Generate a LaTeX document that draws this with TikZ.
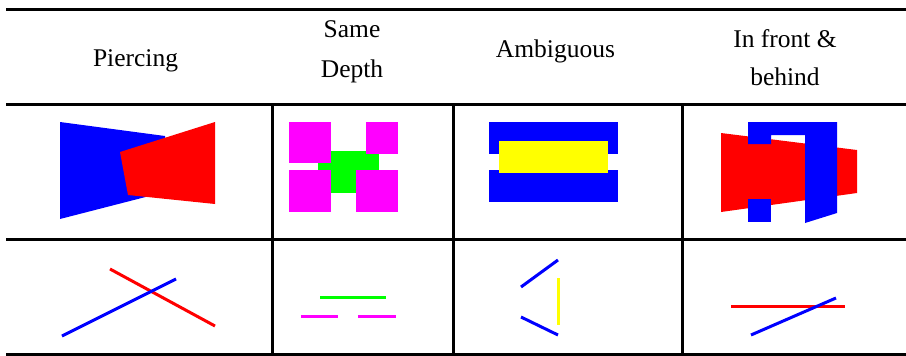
\documentclass[tikz,border=0pt]{standalone}
\usepackage{fontspec}
\setmainfont{Liberation Serif}
\usepackage{xcolor}
\definecolor{puremagenta}{RGB}{255,0,255}
\definecolor{pureyellow}{RGB}{255,255,0}

\begin{document}
\begin{tikzpicture}[
  x=1pt, y=-1pt,
  rule/.style={line width=3pt, black},
  hdr/.style={font=\fontsize{25.5}{40}\selectfont, align=center, anchor=base, inner sep=0pt},
  seg/.style={line width=3pt},
]
  \useasboundingbox (0,0) rectangle (906,356);

  % table rules
  \draw[rule] (6,9) -- (906,9);
  \draw[rule] (6,104) -- (906,104);
  \draw[rule] (6,239) -- (906,239);
  \draw[rule] (6,354) -- (906,354);
  \foreach \x in {272,453,682}
    \draw[rule] (\x,104) -- (\x,354);

  % headers (base = last line)
  \node[hdr] (piercing)    at (135.5,66) {Piercing};
  \node[hdr] (samedepth)   at (352,77)   {Same\\Depth};
  \node[hdr] (ambiguous)   at (555.5,57) {Ambiguous};
  \node[hdr] (frontbehind) at (785,85)   {In front \&\\[-2pt]behind};

  % piercing
  \fill[blue] (60,122) -- (165,136) -- (165,192) -- (60,219) -- cycle;
  \fill[red] (120,152) -- (215,122) -- (215,204) -- (128,195) -- cycle;
  \draw[seg, red]  (110,269) -- (215,326);
  \draw[seg, blue] (62,336) -- (176,279);

  % same depth
  \fill[green] (318,151) rectangle (379,193);
  \fill[puremagenta] (289,122) rectangle (331,163);
  \fill[puremagenta] (366,122) rectangle (398,154);
  \fill[puremagenta] (289,170) rectangle (331,212);
  \fill[puremagenta] (356,170) rectangle (398,212);
  \draw[seg, green]       (320,297) -- (386,297);
  \draw[seg, puremagenta] (301,316) -- (338,316);
  \draw[seg, puremagenta] (358,316) -- (396,316);

  % ambiguous
  \fill[blue] (489,122) rectangle (618,154);
  \fill[blue] (489,170) rectangle (618,202);
  \fill[pureyellow] (499,141) rectangle (608,173);
  \draw[seg, blue]       (521,287) -- (558,260);
  \draw[seg, blue]       (521,317) -- (558,335);
  \draw[seg, pureyellow] (558,278) -- (558,325);

  % in front & behind
  \fill[red] (721,133) -- (857,150) -- (857,193) -- (721,212) -- cycle;
  \fill[blue] (748,122) -- (837,122) -- (837,213) -- (805,223) -- (805,135)
    -- (771,135) -- (771,144) -- (748,144) -- cycle;
  \fill[blue] (748,199) rectangle (771,222);
  \draw[seg, red]  (731,306) -- (845,306);
  \draw[seg, blue] (751,335) -- (836,298);
\end{tikzpicture}
\end{document}
